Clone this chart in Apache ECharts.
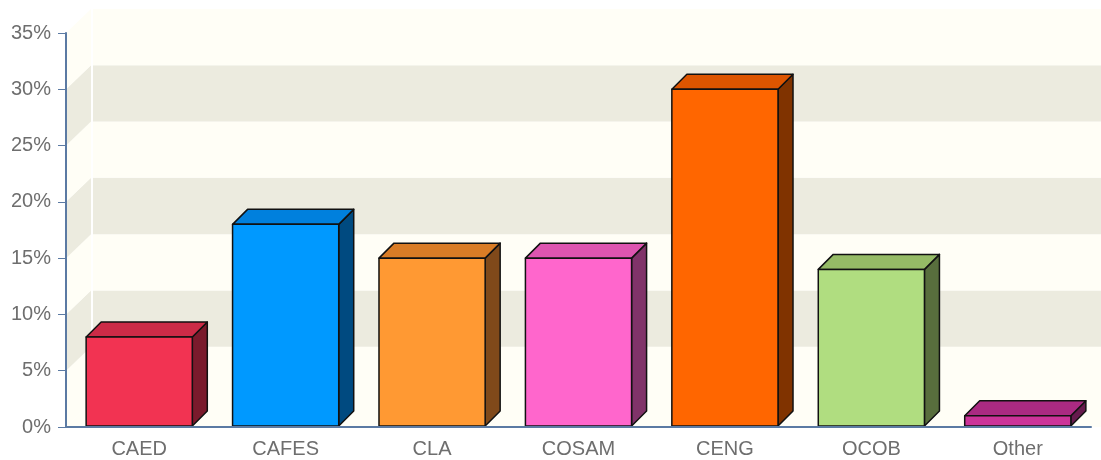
<!DOCTYPE html>
<html>
<head>
<meta charset="utf-8">
<script src="https://cdn.jsdelivr.net/npm/echarts@6/dist/echarts.min.js"></script>
<style>
  html, body { margin: 0; padding: 0; background: #fff; }
  #chart { width: 1101px; height: 460px; }
</style>
</head>
<body>
<div id="chart"></div>
<script>
// data
var categories = ["CAED", "CAFES", "CLA", "COSAM", "CENG", "OCOB", "Other"];
var shares = [8, 18, 15, 15, 30, 14, 1];
var bandStarts = [0, 5, 10, 15, 20, 25, 30];

// colours for each bar: front, top, side
var frontColors = ["#f23352", "#0099ff", "#ff9933", "#ff66cc", "#ff6600", "#b0dd80", "#cc3399"];
var topColors = ["#cc2b47", "#0080dd", "#d97c26", "#dd55b0", "#dd5500", "#95bb66", "#aa2a82"];
var sideColors = ["#7a1a2c", "#004a80", "#80491a", "#803369", "#803300", "#586e3d", "#661a4d"];

var WALL = 25; // depth of the back wall
var BAR = 15;  // depth of each bar

var myChart = echarts.init(document.getElementById("chart"));

var option = {
    animation: false,
    grid: { left: 66, right: 10, top: 33, bottom: 33 },
    xAxis: {
        type: "category",
        data: categories,
        axisLine: { lineStyle: { color: "#5b7aa3", width: 2 } },
        axisTick: { alignWithLabel: true, length: 6, lineStyle: { color: "#5b7aa3" } },
        axisLabel: { color: "#6e6e6e", fontSize: 20, fontFamily: "Liberation Sans", margin: 12 },
        z: 5
    },
    yAxis: {
        type: "value",
        min: 0,
        max: 35,
        interval: 5,
        axisLine: { show: true, lineStyle: { color: "#5b7aa3", width: 2 } },
        axisTick: { show: true, length: 8, lineStyle: { color: "#5b7aa3" } },
        axisLabel: { color: "#6e6e6e", fontSize: 20, fontFamily: "Liberation Sans", margin: 15, formatter: "{value}%" },
        splitLine: { show: false },
        z: 5
    },
    series: [
        {
            // back wall, left wall and floor
            type: "custom",
            clip: false,
            silent: true,
            z: 1,
            data: bandStarts.map(function (v) { return [0, v]; }),
            renderItem: function (params, api) {
                var cs = params.coordSys;
                var lo = api.value(1);
                var yLo = api.coord([0, lo])[1];
                var yHi = api.coord([0, lo + 5])[1];
                var idx = params.dataIndex;
                var fill = idx % 2 === 1 ? "#ecebdf" : "#fffef6";
                var x0 = cs.x;
                var children = [
                    {
                        type: "rect",
                        shape: { x: x0 + WALL + 2, y: yHi - WALL + 1, width: cs.width + WALL, height: yLo - yHi },
                        style: { fill: fill }
                    },
                    {
                        type: "polygon",
                        shape: { points: [[x0, yHi], [x0 + WALL, yHi - WALL + 1], [x0 + WALL, yLo - WALL + 1], [x0, yLo]] },
                        style: { fill: fill }
                    }
                ];
                if (idx === 0) {
                    children.push({
                        type: "polygon",
                        shape: { points: [[x0, yLo], [x0 + WALL, yLo - WALL + 1], [x0 + cs.width + WALL + 20, yLo - WALL + 1], [x0 + cs.width + 20, yLo]] },
                        style: { fill: "#fffef6" }
                    });
                }
                return { type: "group", children: children };
            }
        },
        {
            type: "custom",
            clip: false,
            z: 3,
            data: shares.map(function (v, i) { return [i, v]; }),
            renderItem: function (params, api) {
                var i = api.value(0);
                var base = api.coord([i, 0]);
                var top = api.coord([i, api.value(1)]);
                var w = api.size([1, 0])[0] * 0.725;
                var xl = base[0] - w / 2;
                var xr = base[0] + w / 2;
                var yb = base[1] - 1;
                var yt = top[1];
                var edge = { stroke: "#111", lineWidth: 1.5, lineJoin: "round" };
                return {
                    type: "group",
                    children: [
                        {
                            type: "polygon",
                            shape: { points: [[xr, yt], [xr + BAR, yt - BAR], [xr + BAR, yb - BAR], [xr, yb]] },
                            style: Object.assign({ fill: sideColors[i] }, edge)
                        },
                        {
                            type: "polygon",
                            shape: { points: [[xl, yt], [xl + BAR, yt - BAR], [xr + BAR, yt - BAR], [xr, yt]] },
                            style: Object.assign({ fill: topColors[i] }, edge)
                        },
                        {
                            type: "rect",
                            shape: { x: xl, y: yt, width: w, height: yb - yt },
                            style: Object.assign({ fill: frontColors[i] }, edge)
                        }
                    ]
                };
            }
        }
    ]
};
myChart.setOption(option);
</script>
</body>
</html>
